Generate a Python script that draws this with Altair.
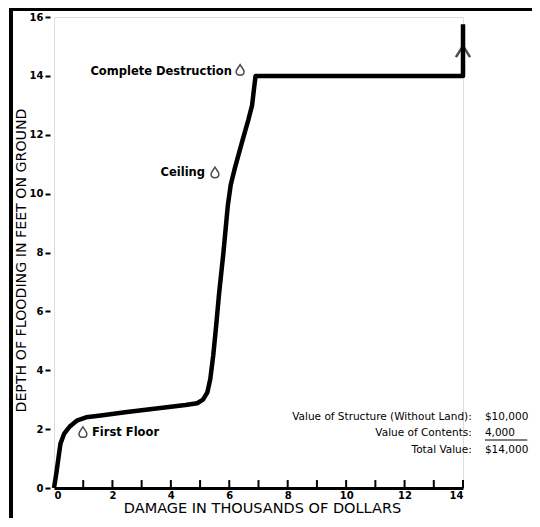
import altair as alt
import pandas as pd

# ---- data ----
damage = [0.0, 0.08, 0.15, 0.22, 0.35, 0.55, 0.8, 1.1, 1.6, 2.5, 3.5, 4.5, 4.9, 5.1,
          5.25, 5.35, 5.45, 5.55, 5.65, 5.8, 5.95, 6.05, 6.2, 6.45, 6.65, 6.78, 6.85,
          6.9, 14.0, 14.0]
depth = [0.0, 0.5, 1.0, 1.5, 1.85, 2.1, 2.3, 2.4, 2.46, 2.58, 2.7, 2.82, 2.88, 3.0,
         3.25, 3.7, 4.5, 5.5, 6.6, 8.0, 9.6, 10.3, 10.9, 11.8, 12.5, 13.0, 13.6,
         14.0, 14.0, 15.75]

x_label_values = [0, 2, 4, 6, 8, 10, 12, 14]
y_label_values = [0, 2, 4, 6, 8, 10, 12, 14, 16]
minor_ticks = list(range(1, 15))

note_text = ["Complete Destruction", "Ceiling", "First Floor"]
note_x = [6.09, 5.17, 1.3]
note_y = [14.13, 10.7, 1.87]
note_align = ["right", "right", "left"]
drop_x = [6.37, 5.51, 0.99]
drop_y = [14.2, 10.72, 1.9]

value_labels = ["Value of Structure (Without Land):", "Value of Contents:", "Total Value:"]
value_amounts = ["$10,000", "4,000", "$14,000"]
value_y = [2.41, 1.87, 1.29]
label_x = 14.3
amount_x = 14.75

arrow_x = [14.0]
arrow_y = [14.78]

# ---- tables ----
curve = pd.DataFrame({"x": damage, "y": depth, "order": list(range(len(damage)))})
ticks = pd.DataFrame({"x": minor_ticks, "y": [0.0] * len(minor_ticks), "y2": [0.27] * len(minor_ticks)})
notes = pd.DataFrame({"x": note_x, "y": note_y, "t": note_text, "a": note_align})
drops = pd.DataFrame({"x": drop_x, "y": drop_y})
vals = pd.DataFrame({"lx": [label_x] * 3, "ax": [amount_x] * 3, "y": value_y,
                     "label": value_labels, "amount": value_amounts})
arrow = pd.DataFrame({"x": arrow_x, "y": arrow_y})
underline = pd.DataFrame({"x": [amount_x], "x2": [16.2], "y": [1.63]})

FONT = "DejaVu Sans"
xs = alt.Scale(domain=[0, 14], nice=False, zero=False)
ys = alt.Scale(domain=[0, 16], nice=False, zero=False)

x_axis = alt.Axis(
    values=x_label_values, ticks=False, grid=False, domainColor="black", domainWidth=3,
    labelFont=FONT, labelFontSize=10, labelFontWeight="bold", labelColor="black",
    labelPadding=2, title="DAMAGE IN THOUSANDS OF DOLLARS", titleFont=FONT,
    titleFontSize=14.5, titleFontWeight="normal", titleColor="black",
    titleAlign="center", titleBaseline="middle", titleX=208, titleY=20)
y_axis = alt.Axis(
    values=y_label_values, domain=False, grid=False, tickSize=5, tickWidth=2,
    tickColor="black", offset=4, labelFont=FONT, labelFontSize=10,
    labelFontWeight="bold", labelColor="black", labelPadding=2,
    title="DEPTH OF FLOODING IN FEET ON GROUND", titleFont=FONT, titleFontSize=14.2,
    titleFontWeight="normal", titleColor="black", titleAngle=270, titleAlign="center",
    titleBaseline="middle", titleX=-29, titleY=243)


def X(field):
    return alt.X(field, type="quantitative", scale=xs, axis=x_axis)


def Y(field):
    return alt.Y(field, type="quantitative", scale=ys, axis=y_axis)


line = alt.Chart(curve).mark_line(color="black", strokeWidth=4.5, strokeJoin="round").encode(
    x=X("x"), y=Y("y"), order="order:Q")

minor = alt.Chart(ticks).mark_rule(color="black", strokeWidth=2).encode(
    x=X("x"), y=Y("y"), y2="y2:Q")

arrow_head = alt.Chart(arrow).mark_point(
    shape="M-1,0.6 L0,-1 L1,0.6", filled=False, color="black", strokeWidth=2.5, size=200
).encode(x=X("x"), y=Y("y"))

drop_shape = ("M0,-1 C0.35,-0.45 0.75,-0.05 0.75,0.35 C0.75,0.75 0.4,1 0,1 "
              "C-0.4,1 -0.75,0.75 -0.75,0.35 C-0.75,-0.05 -0.35,-0.45 0,-1 Z")
droplets = alt.Chart(drops).mark_point(
    shape=drop_shape, filled=False, color="black", strokeWidth=1.5, size=110
).encode(x=X("x"), y=Y("y"))

note_layers = []
for al in ["left", "right"]:
    note_layers.append(
        alt.Chart(notes[notes["a"] == al]).mark_text(
            align=al, baseline="middle", font=FONT, fontSize=11.5, fontWeight="bold", color="black"
        ).encode(x=X("x"), y=Y("y"), text="t:N")
    )

val_labels = alt.Chart(vals).mark_text(
    align="right", baseline="middle", font=FONT, fontSize=10.5, color="black"
).encode(x=X("lx"), y=Y("y"), text="label:N")

val_amounts = alt.Chart(vals).mark_text(
    align="left", baseline="middle", font=FONT, fontSize=10.5, color="black"
).encode(x=X("ax"), y=Y("y"), text="amount:N")

under = alt.Chart(underline).mark_rule(color="black", strokeWidth=1.2).encode(
    x=X("x"), x2="x2:Q", y=Y("y"))

frame_left = alt.Chart(curve).mark_rule(color="black", strokeWidth=3).encode(
    x=alt.value(-43), y=alt.value(-7.5), y2=alt.value(515))
frame_top = alt.Chart(curve).mark_rule(color="black", strokeWidth=3).encode(
    x=alt.value(-44.5), x2=alt.value(500), y=alt.value(-7.5))

chart = alt.layer(
    line, minor, arrow_head, droplets, *note_layers, val_labels, val_amounts, under,
    frame_left, frame_top
).properties(
    width=409, height=471,
    autosize=alt.AutoSizeParams(type="none"),
    padding={"left": 46, "top": 9, "right": 69, "bottom": 30},
).configure_view(strokeWidth=0, stroke="transparent").configure(background="white")

chart.save("out.html", embed_options={"renderer": "svg", "actions": False})
